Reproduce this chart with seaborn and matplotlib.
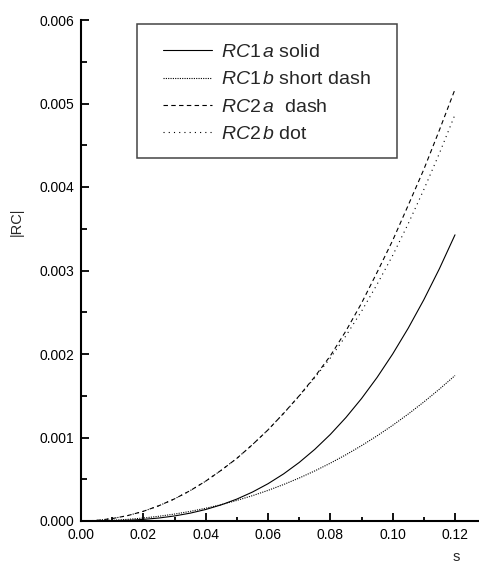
import numpy as np
import pandas as pd
import seaborn as sns
import matplotlib.pyplot as plt
from matplotlib.patches import Rectangle
from matplotlib.ticker import MultipleLocator, FormatStrFormatter

# --- valores ---
s = [0.000, 0.005, 0.010, 0.015, 0.020, 0.025, 0.030, 0.035, 0.040, 0.045, 0.050, 0.055, 0.060,
     0.065, 0.070, 0.075, 0.080, 0.085, 0.090, 0.095, 0.100, 0.105, 0.110, 0.115, 0.120]

rc1a = [0.0, 4.9e-7, 2.9e-6, 8.7e-6, 1.92e-5, 3.59e-5, 6.03e-5, 9.37e-5, 1.376e-4, 1.934e-4, 2.625e-4,
        3.464e-4, 4.464e-4, 5.64e-4, 7.007e-4, 8.578e-4, 1.0368e-3, 1.2391e-3, 1.4661e-3, 1.7193e-3,
        2.0e-3, 2.3097e-3, 2.6499e-3, 3.0219e-3, 3.4272e-3]

rc1b = [0.0, 2.10e-6, 8.57e-6, 1.964e-5, 3.56e-5, 5.66e-5, 8.29e-5, 1.148e-4, 1.525e-4, 1.962e-4,
        2.465e-4, 3.031e-4, 3.665e-4, 4.369e-4, 5.145e-4, 5.996e-4, 6.925e-4, 7.933e-4, 9.023e-4,
        1.0198e-3, 1.146e-3, 1.2811e-3, 1.4254e-3, 1.579e-3, 1.742e-3]

rc2a = [0.0, 7.3e-6, 2.9e-5, 6.5e-5, 1.16e-4, 1.83e-4, 2.65e-4, 3.63e-4, 4.77e-4, 6.08e-4, 7.50e-4,
        9.14e-4, 1.091e-3, 1.289e-3, 1.499e-3, 1.727e-3, 1.978e-3, 2.276e-3, 2.608e-3, 2.978e-3,
        3.360e-3, 3.782e-3, 4.211e-3, 4.682e-3, 5.170e-3]

rc2b = [0.0, 7.3e-6, 2.9e-5, 6.5e-5, 1.16e-4, 1.83e-4, 2.65e-4, 3.63e-4, 4.77e-4, 6.08e-4, 7.50e-4,
        9.14e-4, 1.091e-3, 1.289e-3, 1.495e-3, 1.716e-3, 1.952e-3, 2.218e-3, 2.511e-3, 2.834e-3,
        3.180e-3, 3.561e-3, 3.969e-3, 4.404e-3, 4.867e-3]

series_names = [r'$\mathit{RC}1\,\mathit{a}$ solid',
                r'$\mathit{RC}1\,\mathit{b}$ short dash',
                r'$\mathit{RC}2\,\mathit{a}$  dash',
                r'$\mathit{RC}2\,\mathit{b}$ dot']

df = pd.concat([
    pd.DataFrame({'s': s, 'RC': v, 'serie': nome})
    for v, nome in zip([rc1a, rc1b, rc2a, rc2b], series_names)
], ignore_index=True)

# --- estilo ---
sns.set_style('ticks')
plt.rcParams['font.family'] = ['Liberation Sans', 'DejaVu Sans']
plt.rcParams['mathtext.fontset'] = 'custom'
plt.rcParams['mathtext.rm'] = 'Liberation Sans'
plt.rcParams['mathtext.it'] = 'Liberation Sans:italic'

tracos = {
    series_names[0]: '',
    series_names[1]: (1, 1.1),
    series_names[2]: (4, 3),
    series_names[3]: (1, 3.7),
}

fig = plt.figure(figsize=(4.79, 5.65), dpi=100)
ax = fig.add_axes([81 / 479, 1 - 521 / 565, 398 / 479, 501 / 565])

sns.lineplot(data=df, x='s', y='RC', style='serie', dashes=tracos, color='black',
             linewidth=0.8, legend=False, ax=ax, estimator=None, sort=False)

ax.set_xlim(0, 0.12 * 398 / 374)
ax.set_ylim(0, 0.006)
ax.xaxis.set_major_locator(MultipleLocator(0.02))
ax.xaxis.set_minor_locator(MultipleLocator(0.01))
ax.yaxis.set_major_locator(MultipleLocator(0.001))
ax.yaxis.set_minor_locator(MultipleLocator(0.0005))
ax.xaxis.set_major_formatter(FormatStrFormatter('%.2f'))
ax.yaxis.set_major_formatter(FormatStrFormatter('%.3f'))
ax.tick_params(which='both', direction='in', width=1.3, labelsize=10, colors='black')
ax.tick_params(which='major', length=6, pad=5)
ax.tick_params(axis='x', which='minor', length=3)
ax.tick_params(axis='y', which='minor', length=4.5)

sns.despine(ax=ax)
for lado in ['left', 'bottom']:
    ax.spines[lado].set_linewidth(1.5)
    ax.spines[lado].set_color('black')

ax.set_xlabel('s', fontsize=10.5)
ax.set_ylabel('|RC|', fontsize=10.5)
ax.xaxis.set_label_coords(0.942, -0.058)
ax.yaxis.set_label_coords(-0.143, 0.597)

# legenda sem moldura + caixa desenhada a parte
linhas = ax.get_lines()[:4]
pad = 1.0
ax.legend(linhas, series_names, loc='upper left',
          bbox_to_anchor=(0.141 + 0.065 - pad * 19.4 / 398, 0.992),
          frameon=False, fontsize=14, borderpad=pad, borderaxespad=0,
          handlelength=2.5, handletextpad=0.5, labelspacing=0.5)
ax.add_patch(Rectangle((0.141, 0.725), 0.653, 0.267, transform=ax.transAxes,
                       fill=False, edgecolor='#444444', linewidth=1.1, zorder=5))

plt.savefig('out.png', dpi=100)
plt.close()
